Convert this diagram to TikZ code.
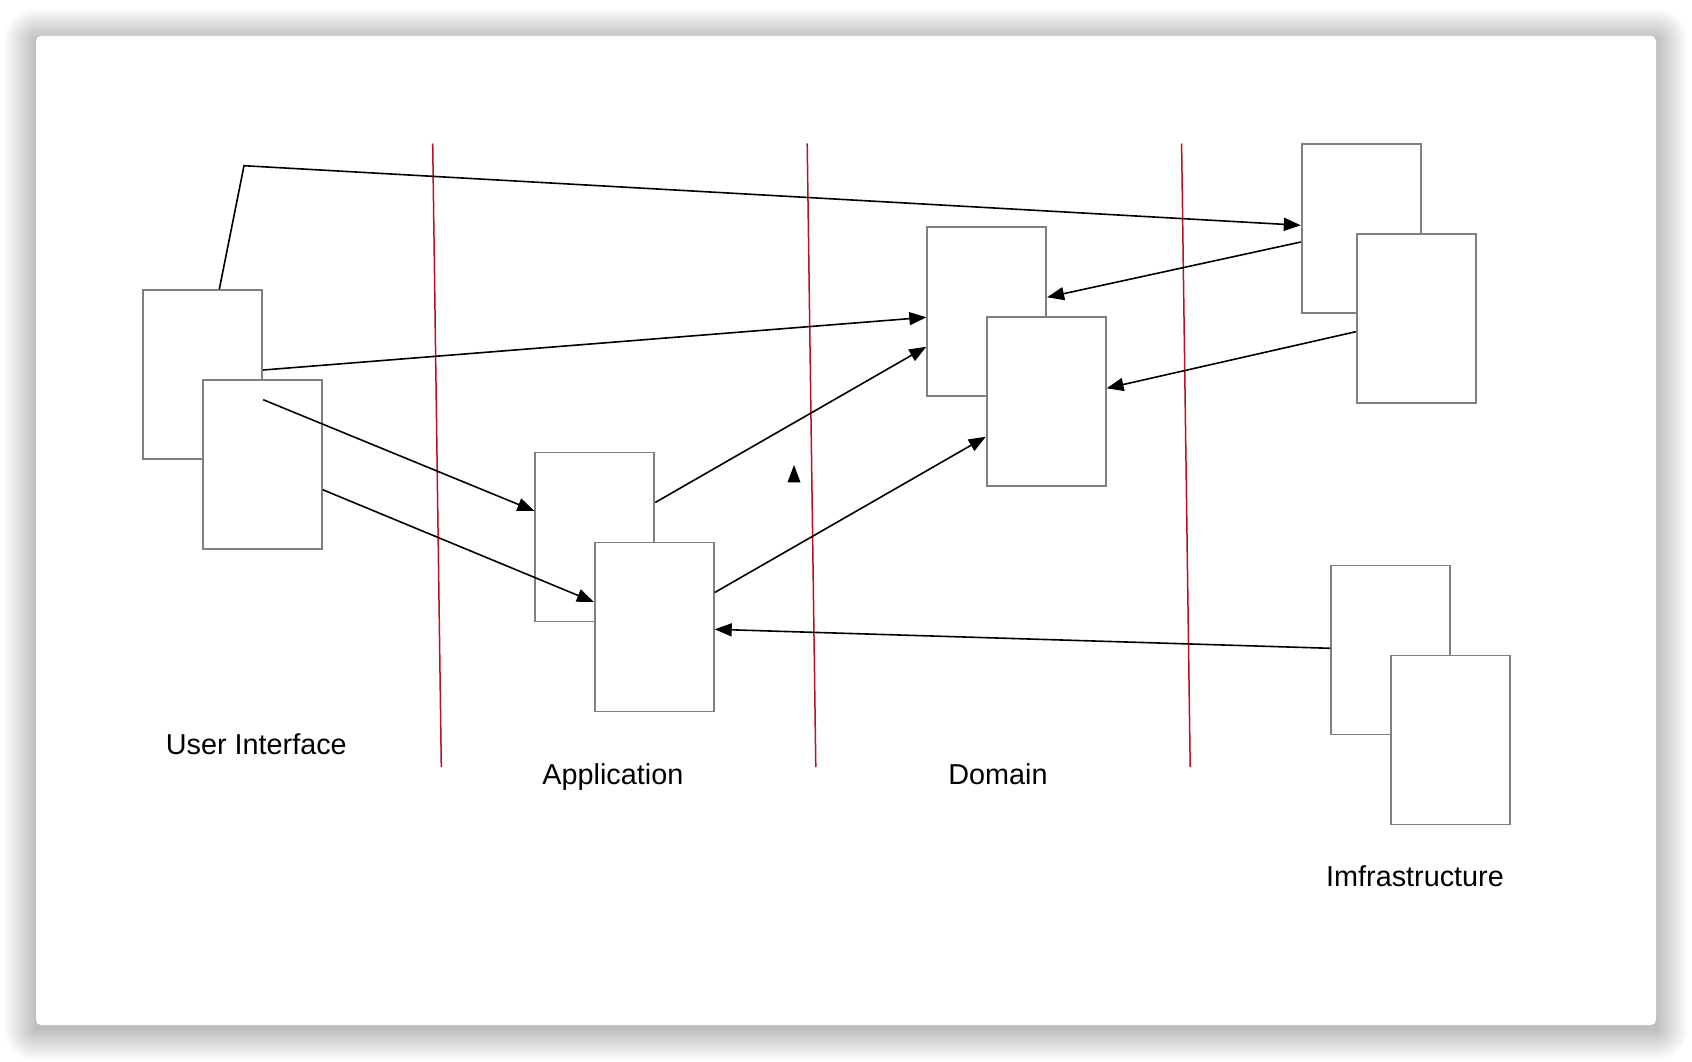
\documentclass[tikz,border=0pt]{standalone}
\usepackage{fontspec}
\setmainfont{Liberation Sans}
\definecolor{layerRed}{RGB}{184, 16, 38}
\definecolor{boxGray}{RGB}{128, 128, 128}
\usetikzlibrary{arrows.meta, positioning, calc}
\tikzstyle{doc} = [rectangle, minimum width=119pt, minimum height=169pt, draw=boxGray, line width=1.8pt, fill=white, inner sep=0pt]
\tikzstyle{flow} = [-{Triangle[length=17pt,width=13pt]}, line width=1.6pt, black]
\tikzstyle{sep} = [layerRed, line width=1.5pt]
\tikzstyle{layer} = [font=\fontsize{28.8}{30}\selectfont, anchor=base, inner sep=0pt]

\begin{document}
\begin{tikzpicture}[x=1pt, y=-1pt]
				\useasboundingbox (0,0) rectangle (1692,1062);
				\fill[white] (0,0) rectangle (1692,1062);
				% soft window shadow
				\foreach \i in {1,...,32}
					\fill[black, opacity=0.0065, rounded corners=\i pt] (36-\i,40-\i) rectangle (1656+\i,1029+\i);
				\fill[white, rounded corners=5pt] (36,36) rectangle (1656,1025);
				
				\draw[sep] (432.7,143.5) -- (441.3,767.2);
				\draw[sep] (807.2,143.5) -- (815.8,767.2);
				\draw[sep] (1181.6,143.5) -- (1190.2,767.2);
				
				\node (ui1) [doc] at (202.8,374.7) {};
				\node (ui2) [doc] at ([shift={(59.5pt,-90pt)}]ui1.center) {};
				\node (app1) [doc] at (594.8,537) {};
				\node (app2) [doc] at ([shift={(59.5pt,-90pt)}]app1.center) {};
				\node (dom1) [doc] at (986.7,311.8) {};
				\node (dom2) [doc] at ([shift={(59.5pt,-90pt)}]dom1.center) {};
				\node (inf1) [doc] at (1361.2,228.7) {};
				\node (inf2) [doc] at ([shift={(55pt,-90pt)}]inf1.center) {};
				\node (inf3) [doc] at (1390.8,650) {};
				\node (inf4) [doc] at ([shift={(59.5pt,-90pt)}]inf3.center) {};
				\coordinate (bend) at (244,165.7);
				\coordinate (tip) at (794,465);
				
				\draw[flow] ([xshift=16.5pt]ui1.north) -- (bend) -- ([yshift=3.4pt]inf1.west);
				\draw[flow] ([yshift=4.7pt]ui1.east) -- ([yshift=-5.5pt]dom1.west);
				\draw[flow] ([yshift=-25pt]ui1.east) -- ([yshift=26pt]app1.west);
				\draw[flow] ([yshift=-25pt]ui2.east) -- ([yshift=25pt]app2.west);
				\draw[flow] ([yshift=34.5pt]app1.east) -- ([yshift=-35pt]dom1.west);
				\draw[flow] ([yshift=34.5pt]app2.east) -- ([yshift=-35pt]dom2.west);
				\draw[flow] ([yshift=-13.3pt]inf1.west) -- ([yshift=14.5pt]dom1.east);
				\draw[flow] ([yshift=-13pt]inf2.west) -- ([yshift=13.5pt]dom2.east);
				\draw[flow] ([yshift=1.7pt]inf3.west) -- ([yshift=-2.3pt]app2.east);
				\fill (tip) -- ++(-6.5,17.3) -- ++(13,0) -- cycle;
				
				\node (uilbl) [layer] at (256.3,754) {User Interface};
				\node (applbl) [layer] at (612.9,784.4) {Application};
				\node (domlbl) [layer] at (998,784.3) {Domain};
				\node (inflbl) [layer] at (1415,886.7) {Imfrastructure};
			\end{tikzpicture}
\end{document}
